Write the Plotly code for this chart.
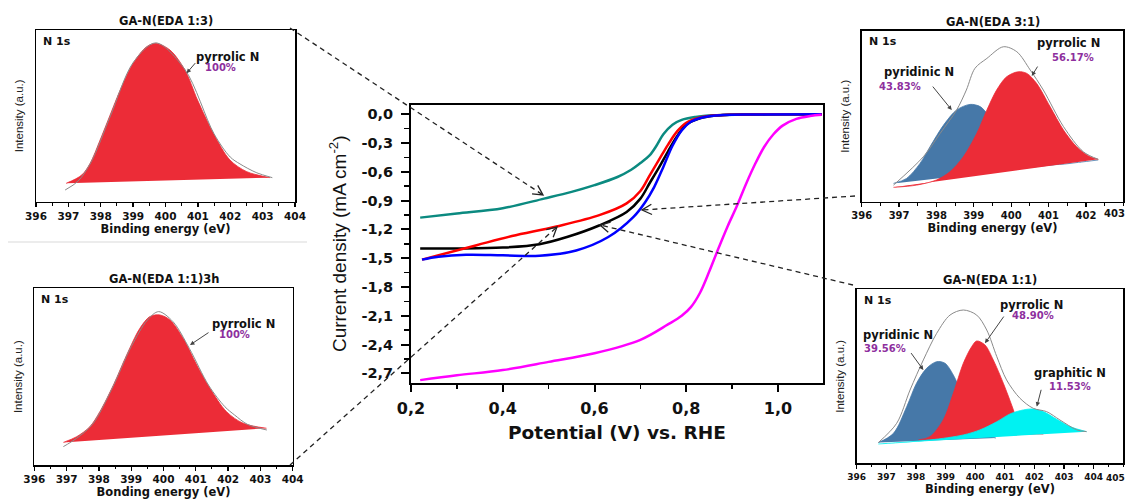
import math
import plotly.graph_objects as go

W, H = 1127, 502

# ---------------- main LSV data (Potential V vs RHE, current density mA cm-2) ----------------
teal_v = [0.22, 0.30, 0.40, 0.49, 0.55, 0.60, 0.65, 0.68, 0.70, 0.72, 0.735, 0.75, 0.77, 0.79, 0.82, 0.86, 0.92, 1.00, 1.095]
teal_j = [-1.078, -1.035, -0.98, -0.88, -0.81, -0.74, -0.655, -0.58, -0.51, -0.43, -0.33, -0.21, -0.11, -0.06, -0.03, -0.012, -0.005, -0.002, -0.001]

black_v = [0.22, 0.30, 0.40, 0.48, 0.54, 0.61, 0.67, 0.70, 0.72, 0.74, 0.76, 0.78, 0.80, 0.83, 0.86, 0.90, 1.00, 1.095]
black_j = [-1.40, -1.40, -1.39, -1.355, -1.28, -1.16, -1.02, -0.88, -0.72, -0.56, -0.39, -0.23, -0.11, -0.045, -0.018, -0.007, -0.002, -0.001]

red_v = [0.224, 0.343, 0.42, 0.517, 0.612, 0.67, 0.70, 0.72, 0.74, 0.76, 0.78, 0.80, 0.83, 0.86, 0.90, 1.00, 1.095]
red_j = [-1.515, -1.365, -1.27, -1.17, -1.05, -0.93, -0.80, -0.64, -0.48, -0.32, -0.18, -0.09, -0.035, -0.014, -0.006, -0.002, -0.001]

blue_v = [0.224, 0.26, 0.32, 0.40, 0.48, 0.56, 0.63, 0.685, 0.71, 0.73, 0.75, 0.77, 0.79, 0.81, 0.84, 0.88, 0.95, 1.095]
blue_j = [-1.515, -1.485, -1.465, -1.47, -1.475, -1.42, -1.28, -1.07, -0.92, -0.76, -0.55, -0.33, -0.17, -0.08, -0.03, -0.01, -0.004, -0.001]

mag_v = [0.22, 0.30, 0.40, 0.50, 0.60, 0.70, 0.76, 0.79, 0.81, 0.83, 0.85, 0.87, 0.89, 0.91, 0.93, 0.95, 0.97, 0.99, 1.01, 1.04, 1.07, 1.095]
mag_j = [-2.77, -2.72, -2.665, -2.58, -2.49, -2.35, -2.19, -2.10, -2.01, -1.86, -1.64, -1.40, -1.17, -0.96, -0.73, -0.52, -0.34, -0.21, -0.12, -0.05, -0.02, -0.008]

x_tick_vals = [0.2, 0.4, 0.6, 0.8, 1.0]
x_tick_text = ["0,2", "0,4", "0,6", "0,8", "1,0"]
y_tick_vals = [0.0, -0.3, -0.6, -0.9, -1.2, -1.5, -1.8, -2.1, -2.4, -2.7]
y_tick_text = ["0,0", "-0,3", "-0,6", "-0,9", "-1,2", "-1,5", "-1,8", "-2,1", "-2,4", "-2,7"]

# inset tick labels (the last label of the right insets sits at the page edge)
be_ticks_404 = [396, 397, 398, 399, 400, 401, 402, 403, 404]
be_ticks_403 = [396, 397, 398, 399, 400, 401, 402, 403]
be_ticks_405 = [396, 397, 398, 399, 400, 401, 402, 403, 404, 405]

# ---------------- XPS insets (binding energy eV, intensity a.u.) ----------------
# GA-N(EDA 1:3)
i1_x = [396.93, 397.41, 397.67, 397.98, 398.29, 398.6, 399.0, 399.42, 399.71, 400.14, 400.6, 400.99, 401.48, 401.99, 402.51, 403.23]
i1_pyrrolic = [10.7, 15.5, 22.3, 35.9, 50.5, 65.0, 80.6, 90.3, 92.2, 88.3, 76.7, 59.2, 39.8, 24.3, 17.5, 14.0]
i1_env_x = [396.9, 397.3, 397.7, 398.3, 399.0, 399.7, 400.6, 401.5, 402.0, 402.3, 402.8, 403.3]
i1_env_y = [6.8, 12.0, 23.0, 50.0, 81.0, 92.5, 77.0, 39.5, 26.0, 22.0, 17.0, 14.0]

# GA-N(EDA 1:1)3h
i2_x = [396.9, 397.31, 397.72, 398.03, 398.45, 398.86, 399.27, 399.58, 399.89, 400.2, 400.61, 401.03, 401.44, 401.95, 402.47, 403.19]
i2_pyrrolic = [12.8, 16.0, 21.7, 30.2, 45.3, 62.3, 77.4, 84.0, 84.9, 82.1, 71.7, 56.6, 43.4, 30.2, 23.6, 20.8]
i2_env_x = [396.9, 397.3, 397.8, 398.4, 399.0, 399.5, 399.85, 400.3, 400.8, 401.4, 401.9, 402.2, 402.6, 403.2]
i2_env_y = [10.4, 15.0, 23.0, 43.0, 67.0, 82.0, 86.8, 81.0, 66.0, 45.0, 33.0, 28.3, 23.0, 19.8]

# GA-N(EDA 3:1)
i3_pyridinic_x = [396.85, 397.2, 397.56, 397.83, 398.19, 398.54, 398.9, 399.17, 399.39, 399.7, 400.0, 400.4, 400.8, 401.3, 401.8, 402.33]
i3_pyridinic_y = [10.7, 13.6, 22.4, 32.2, 44.8, 53.6, 56.9, 55.6, 50.7, 43.0, 34.0, 26.0, 22.0, 21.8, 23.0, 24.4]
i3_pyrrolic_x = [396.85, 397.47, 398.0, 398.36, 398.72, 399.08, 399.35, 399.61, 399.88, 400.19, 400.42, 400.68, 401.04, 401.4, 401.75, 402.11, 402.33]
i3_pyrrolic_y = [8.4, 9.7, 12.7, 17.5, 26.3, 40.0, 53.6, 65.3, 73.1, 76.0, 75.0, 69.2, 55.6, 41.9, 32.2, 26.3, 24.8]
i3_env_x = [396.85, 397.65, 398.1, 398.54, 398.8, 399.03, 399.35, 399.79, 400.15, 400.51, 400.86, 401.4, 401.93, 402.33]
i3_env_y = [9.7, 26.3, 40.0, 53.6, 65.3, 78.0, 83.8, 90.6, 87.7, 77.0, 65.3, 43.9, 29.2, 24.8]

# GA-N(EDA 1:1)
i4_pyridinic_x = [396.73, 397.24, 397.69, 398.02, 398.36, 398.7, 398.98, 399.26, 399.6, 399.9, 400.3, 400.7]
i4_pyridinic_y = [11.9, 17.2, 32.6, 46.0, 54.6, 58.4, 57.5, 50.8, 38.0, 26.0, 17.0, 14.5]
i4_pyrrolic_x = [398.08, 398.47, 398.92, 399.26, 399.6, 399.88, 400.05, 400.33, 400.61, 400.95, 401.29, 401.46, 401.8, 402.3]
i4_pyrrolic_y = [13.4, 15.3, 24.9, 40.2, 57.5, 67.0, 70.3, 68.0, 59.4, 46.0, 30.7, 22.0, 18.0, 16.8]
i4_graphitic_x = [396.73, 398.47, 399.6, 400.16, 400.73, 401.18, 401.63, 401.96, 402.3, 402.75, 403.2, 403.76]
i4_graphitic_y = [11.1, 13.4, 16.3, 19.2, 23.9, 28.4, 30.7, 31.2, 29.7, 25.3, 21.1, 18.2]
i4_env_x = [396.73, 397.35, 397.8, 398.25, 398.7, 399.15, 399.6, 400.05, 400.39, 400.73, 401.06, 401.51, 401.96, 402.41, 402.86, 403.43, 403.76]
i4_env_y = [11.9, 23.0, 42.1, 59.4, 74.7, 85.2, 88.1, 85.2, 76.6, 61.3, 47.9, 37.4, 31.6, 29.7, 24.9, 19.2, 18.2]

# ---------------- styling ----------------
RED_FILL = "#ec2c37"
BLUE_FILL = "#4678a8"
CYAN_FILL = "#00f2f2"
PURPLE = "#8e2f9e"
BOLD = "DejaVu Sans"
SANS = "Liberation Sans, Arial, sans-serif"
INK = "#111111"


def px(x):
    return x / W


def py(y):
    return 1 - y / H


def b(s):
    return "<b>" + s + "</b>"


fig = go.Figure()

# main curves
for v, j, c in [(teal_v, teal_j, "#0b8a80"), (black_v, black_j, "#000000"),
                (red_v, red_j, "#ff0000"), (blue_v, blue_j, "#0000ff"),
                (mag_v, mag_j, "#ff00ff")]:
    fig.add_trace(go.Scatter(x=v, y=j, mode="lines", xaxis="x", yaxis="y",
                             line=dict(color=c, width=2.5, shape="spline", smoothing=1.0),
                             showlegend=False, hoverinfo="skip"))


def peak(xs, ys, color, ax):
    fig.add_trace(go.Scatter(x=xs, y=ys, mode="lines", fill="toself", fillcolor=color,
                             line=dict(color=color, width=0.8, shape="spline", smoothing=0.9),
                             xaxis="x" + ax, yaxis="y" + ax, showlegend=False, hoverinfo="skip"))


def env(xs, ys, ax):
    fig.add_trace(go.Scatter(x=xs, y=ys, mode="lines",
                             line=dict(color="#8a8a8a", width=1, shape="spline", smoothing=0.9),
                             xaxis="x" + ax, yaxis="y" + ax, showlegend=False, hoverinfo="skip"))


peak(i1_x, i1_pyrrolic, RED_FILL, "2")
env(i1_env_x, i1_env_y, "2")
peak(i2_x, i2_pyrrolic, RED_FILL, "3")
env(i2_env_x, i2_env_y, "3")
peak(i3_pyridinic_x, i3_pyridinic_y, BLUE_FILL, "4")
peak(i3_pyrrolic_x, i3_pyrrolic_y, RED_FILL, "4")
env(i3_env_x, i3_env_y, "4")
peak(i4_pyridinic_x, i4_pyridinic_y, BLUE_FILL, "5")
peak(i4_pyrrolic_x, i4_pyrrolic_y, RED_FILL, "5")
peak(i4_graphitic_x, i4_graphitic_y, CYAN_FILL, "5")
env(i4_env_x, i4_env_y, "5")

# ---------------- axes ----------------
main_x_dom = [px(411), px(823)]
main_y_dom = [py(383), py(104.5)]

layout = dict(
    template="none",
    width=W, height=H, autosize=False,
    margin=dict(l=0, r=0, t=0, b=0, pad=0, autoexpand=False),
    paper_bgcolor="white", plot_bgcolor="white",
    showlegend=False,
    xaxis=dict(domain=main_x_dom, anchor="y", range=[0.2, 1.098], automargin=False,
               showline=True, mirror=True, linecolor="black", linewidth=2,
               ticks="outside", ticklen=7, tickwidth=2, tickcolor="black",
               tickmode="array", tickvals=x_tick_vals, ticktext=[b(t) for t in x_tick_text],
               tickfont=dict(family=BOLD, size=16, color=INK, weight=700),
               ticklabelstandoff=3,
               minor=dict(ticks="outside", ticklen=4, tickwidth=1.5, tickcolor="black",
                          tickmode="linear", tick0=0.1, dtick=0.2),
               showgrid=False, zeroline=False,
               title=dict(text=b("Potential (V) vs. RHE"), standoff=9,
                          font=dict(family=BOLD, size=18.5, color=INK))),
    yaxis=dict(domain=main_y_dom, anchor="x", range=[-2.8, 0.1], automargin=False,
               showline=True, mirror=True, linecolor="black", linewidth=2,
               ticks="outside", ticklen=8, tickwidth=2, tickcolor="black",
               tickmode="array", tickvals=y_tick_vals, ticktext=[b(t) for t in y_tick_text],
               tickfont=dict(family=BOLD, size=14.5, color=INK, weight=700),
               ticklabelstandoff=5,
               minor=dict(ticks="outside", ticklen=5, tickwidth=1.5, tickcolor="black",
                          tickmode="linear", tick0=-0.15, dtick=0.3),
               showgrid=False, zeroline=False,
               title=dict(text="Current density (mA cm<sup>-2</sup>)", standoff=10,
                          font=dict(family=SANS, size=19, color=INK))),
)

insets = [
    # axis id, x px range, y px range, x range, ticks, last label at page edge, tick size, shift, title, x title
    ("2", (36, 295), (30, 201.7), [396, 404], be_ticks_404, False, 10.5, 0, "GA-N(EDA 1:3)", "Binding energy (eV)"),
    ("3", (34.3, 292.7), (288.3, 465), [396, 404], be_ticks_404, False, 10.5, 0, "GA-N(EDA 1:1)3h", "Bonding energy (eV)"),
    ("4", (861.7, 1123.3), (30.7, 201.7), [396, 403], be_ticks_403, True, 10, -4, "GA-N(EDA 3:1)", "Binding energy (eV)"),
    ("5", (856.7, 1123.3), (289.3, 463.3), [396, 405], be_ticks_405, True, 9, -8, "GA-N(EDA 1:1)", "Binding energy (eV)"),
]

annotations = []
for ax, (x0, x1), (y0, y1), xr, tv, edge_last, tsize, shift, title, xtitle in insets:
    vals = list(tv)
    if edge_last:
        last = vals.pop()
        annotations.append(dict(text=b(str(last)), xref="paper", yref="y" + ax + " domain",
                                x=1.0, y=0, xanchor="right", yanchor="top", yshift=shift,
                                showarrow=False,
                                font=dict(family=BOLD, size=tsize, color=INK)))
    layout["xaxis" + ax] = dict(
        domain=[px(x0), px(x1)], anchor="y" + ax, range=xr, automargin=False,
        showline=True, mirror=True, linecolor="black", linewidth=1.5,
        ticks="outside", ticklen=4, tickwidth=1.3, tickcolor="black",
        tickmode="array", tickvals=vals, ticktext=[b(str(t)) for t in vals],
        tickfont=dict(family=BOLD, size=tsize, color=INK, weight=700),
        ticklabelstandoff=0,
        minor=dict(ticks="outside", ticklen=2.5, tickwidth=1, tickcolor="black",
                   tickmode="linear", tick0=396, dtick=0.5),
        showgrid=False, zeroline=False,
        title=dict(text=b(xtitle), standoff=2,
                   font=dict(family=BOLD, size=11.5, color=INK)))
    layout["yaxis" + ax] = dict(
        domain=[py(y1), py(y0)], anchor="x" + ax, range=[0, 100], automargin=False,
        showline=True, mirror=True, linecolor="black", linewidth=1.5,
        ticks="", showticklabels=False, showgrid=False, zeroline=False,
        title=dict(text="Intensity (a.u.)", standoff=8,
                   font=dict(family=SANS, size=11.5, color="#222")))
    annotations.append(dict(text=b(title), xref="x" + ax + " domain", yref="y" + ax + " domain",
                            x=0.5, y=1.0, xanchor="center", yanchor="bottom", yshift=0,
                            showarrow=False,
                            font=dict(family=BOLD, size=11.5, color=INK)))
    annotations.append(dict(text=b("N 1s"), xref="x" + ax + " domain", yref="y" + ax + " domain",
                            x=0.02, y=0.985, xanchor="left", yanchor="top", showarrow=False,
                            font=dict(family=BOLD, size=11, color=INK)))

fig.update_layout(**layout)


def label(ax, x, y, text, size=11.5, color=INK):
    annotations.append(dict(text=b(text), xref="x" + ax, yref="y" + ax, x=x, y=y,
                            xanchor="center", yanchor="middle", showarrow=False,
                            font=dict(family=BOLD, size=size, color=color)))


def small_arrow(ax, tail, tip):
    annotations.append(dict(text="", xref="x" + ax, yref="y" + ax, x=tip[0], y=tip[1],
                            axref="x" + ax, ayref="y" + ax, ax=tail[0], ay=tail[1],
                            showarrow=True, arrowhead=2, arrowsize=0.9, arrowwidth=1,
                            arrowcolor="#444"))


# inset 1
label("2", 401.9, 84.5, "pyrrolic N")
label("2", 401.7, 78.0, "100%", 10, PURPLE)
small_arrow("2", (400.96, 81.6), (400.65, 74.8))
# inset 2
label("3", 402.47, 79.8, "pyrrolic N")
label("3", 402.2, 74.0, "100%", 10, PURPLE)
small_arrow("3", (401.44, 75.5), (400.82, 67.9))
# inset 3
label("4", 397.52, 76.0, "pyridinic N")
label("4", 397.03, 67.3, "43.83%", 10, PURPLE)
small_arrow("4", (397.87, 68.2), (398.41, 53.6))
label("4", 401.53, 92.6, "pyrrolic N")
label("4", 401.66, 84.4, "56.17%", 10, PURPLE)
small_arrow("4", (400.73, 79.9), (400.55, 73.5))
# inset 4
label("5", 397.41, 73.8, "pyridinic N")
label("5", 396.96, 66.1, "39.56%", 10, PURPLE)
small_arrow("5", (397.8, 64.2), (398.25, 53.6))
label("5", 401.9, 91.0, "pyrrolic N")
label("5", 401.96, 85.2, "48.90%", 10, PURPLE)
small_arrow("5", (401.0, 85.2), (400.33, 69.0))
label("5", 403.2, 51.7, "graphitic N")
label("5", 403.2, 44.4, "11.53%", 10, PURPLE)
small_arrow("5", (402.24, 43.1), (402.08, 32.6))

# ---------------- dashed connector arrows (pixel positions) ----------------
shapes = []
connectors = [((290, 28), (543, 195)), ((855, 196), (642, 210)),
              ((853, 285), (600, 225)), ((290, 465), (557, 227))]
for (sx, sy), (tx, ty) in connectors:
    shapes.append(dict(type="line", xref="paper", yref="paper",
                       x0=px(sx), y0=py(sy), x1=px(tx), y1=py(ty),
                       line=dict(color="#222", width=1.3, dash="5px,4px")))
    d = math.hypot(tx - sx, ty - sy)
    ux, uy = (tx - sx) / d, (ty - sy) / d
    L, a = 11, math.radians(28)
    pts = []
    for s in (1, -1):
        ca, sa = math.cos(s * a), math.sin(s * a)
        rx, ry = ux * ca - uy * sa, ux * sa + uy * ca
        pts.append((tx - L * rx, ty - L * ry))
    path = "M {} {} L {} {} L {} {}".format(px(pts[0][0]), py(pts[0][1]), px(tx), py(ty),
                                             px(pts[1][0]), py(pts[1][1]))
    shapes.append(dict(type="path", xref="paper", yref="paper", path=path,
                       line=dict(color="#222", width=1.3)))

# light separator between the left insets
shapes.append(dict(type="line", xref="paper", yref="paper", x0=px(8), y0=py(242), x1=px(307), y1=py(242),
                   line=dict(color="#d9d9d9", width=1)))

fig.update_layout(annotations=annotations, shapes=shapes)
fig.write_html("out.html", config={"displayModeBar": False, "staticPlot": True},
               post_script="document.body.style.margin='0';document.body.style.overflow='hidden';")
